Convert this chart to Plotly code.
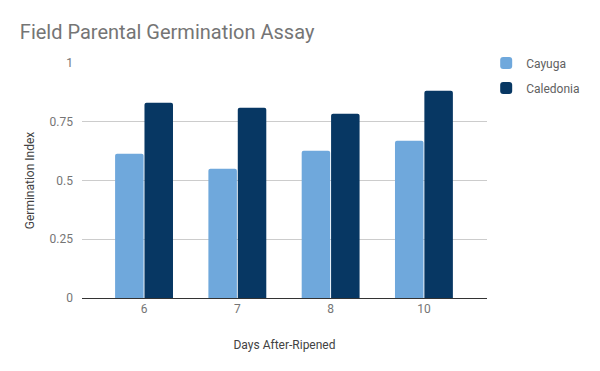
import plotly.graph_objects as go

categories = ["6", "7", "8", "10"]
cayuga = [0.614, 0.550, 0.627, 0.669]
caledonia = [0.831, 0.810, 0.784, 0.882]
y_ticks = [0, 0.25, 0.5, 0.75, 1]
y_tick_labels = ["0", "0.25", "0.5", "0.75", "1"]

FONT = "Roboto"

fig = go.Figure()
fig.add_trace(go.Bar(x=categories, y=cayuga, name="Cayuga",
                     marker=dict(color="#6fa8dc", cornerradius=2, line=dict(width=0)),
                     legend="legend"))
fig.add_trace(go.Bar(x=categories, y=caledonia, name="Caledonia",
                     marker=dict(color="#073763", cornerradius=2, line=dict(width=0)),
                     legend="legend2"))

# page body has an 8px default margin; figure sized to fit the 600x371 window
fig.update_layout(
    width=592, height=363,
    margin=dict(l=74, r=113, t=55, b=73, autoexpand=False),
    paper_bgcolor="white", plot_bgcolor="white",
    font=dict(family=FONT, color="#757575", size=12),
    title=dict(text="Field Parental Germination Assay", x=0.02, xanchor="left",
               y=0.934, yanchor="middle", yref="container",
               font=dict(family=FONT, size=20, color="#757575")),
    barmode="group", bargap=0.37, bargroupgap=0.03,
    showlegend=True,
    legend=dict(x=0.998, xanchor="left", y=1.0, yanchor="middle",
                font=dict(family=FONT, size=12, color="#616161"),
                bgcolor="rgba(0,0,0,0)"),
    legend2=dict(x=0.998, xanchor="left", y=0.894, yanchor="middle",
                 font=dict(family=FONT, size=12, color="#616161"),
                 bgcolor="rgba(0,0,0,0)"),
    xaxis=dict(type="category", range=[-0.665, 3.676], showgrid=False,
               showline=True, linecolor="#333333", linewidth=1, automargin=False,
               ticks="", tickfont=dict(size=12, color="#757575"),
               title=dict(text="Days After-Ripened", standoff=25,
                          font=dict(size=12, color="#424242"))),
    yaxis=dict(range=[0, 1], tickvals=y_ticks, ticktext=y_tick_labels,
               showgrid=True, gridcolor="#cccccc", gridwidth=1, automargin=False,
               zeroline=True, zerolinecolor="#333333", zerolinewidth=1,
               showline=False, ticks="", ticklabelstandoff=8,
               tickfont=dict(size=12, color="#757575"),
               title=dict(text="Germination Index", standoff=12,
                          font=dict(size=12, color="#424242"))),
)

fig.write_html("out.html")
